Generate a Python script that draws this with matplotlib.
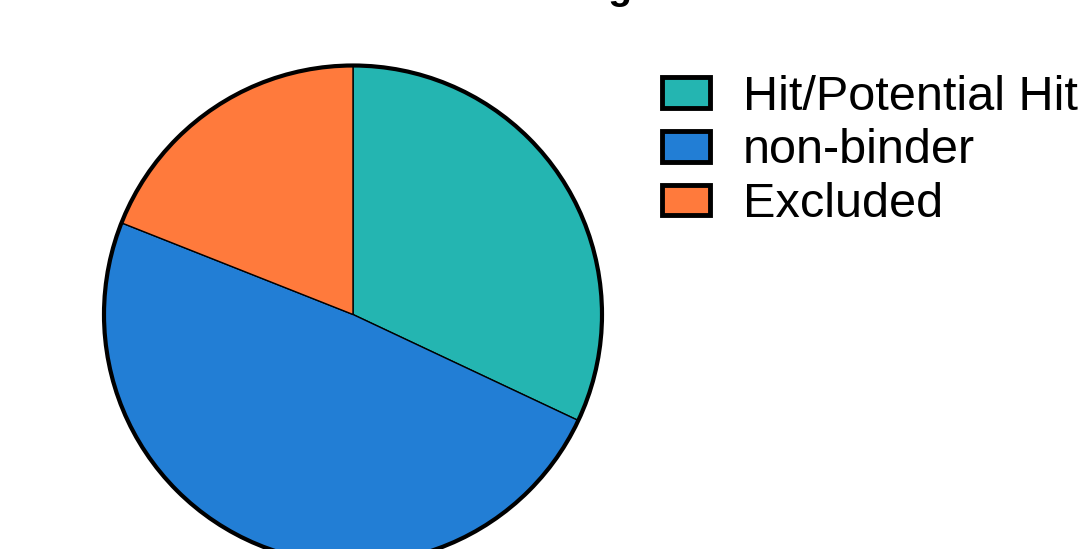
import matplotlib.pyplot as plt
from matplotlib.patches import Circle

plt.rcParams['font.family'] = ['Liberation Sans', 'DejaVu Sans']

# Data
labels = ["Hit/Potential Hit", "non-binder", "Excluded"]
shares = [32, 49, 19]
colors = ["#24B5B1", "#227ED5", "#FF7A3C"]

fig = plt.figure(figsize=(10.82, 5.49), dpi=100)

# pie axes: centre ~ (353, 314.5) px, radius ~ 249 px
W, H = 1082, 549
cx, cy, r = 353, 314.5, 249
ax = fig.add_axes([(cx - r) / W, (H - cy - r) / H, 2 * r / W, 2 * r / H])
wedges, _ = ax.pie(shares, colors=colors, startangle=90, counterclock=False,
                   wedgeprops=dict(edgecolor="black", linewidth=1))
ax.add_patch(Circle((0, 0), 1, fill=False, edgecolor="black", linewidth=3,
                    zorder=5, clip_on=False))
ax.set_xlim(-1, 1)
ax.set_ylim(-1, 1)
ax.set_aspect("equal")
ax.axis("off")

# title sits mostly above the visible area, only the descender shows
fig.text(0.585, 1.002, "Screening", ha="right", va="baseline",
         fontsize=28, fontweight="bold")

leg = fig.legend(wedges, labels, loc="upper left", bbox_to_anchor=(0.6114, 0.864),
                 frameon=False, fontsize=35, handlelength=1.0, handleheight=0.6,
                 handletextpad=0.67, labelspacing=0.18, borderpad=0, borderaxespad=0)
for h in leg.legend_handles:
    h.set_linewidth(3.5)

fig.savefig("out.png", dpi=100)
